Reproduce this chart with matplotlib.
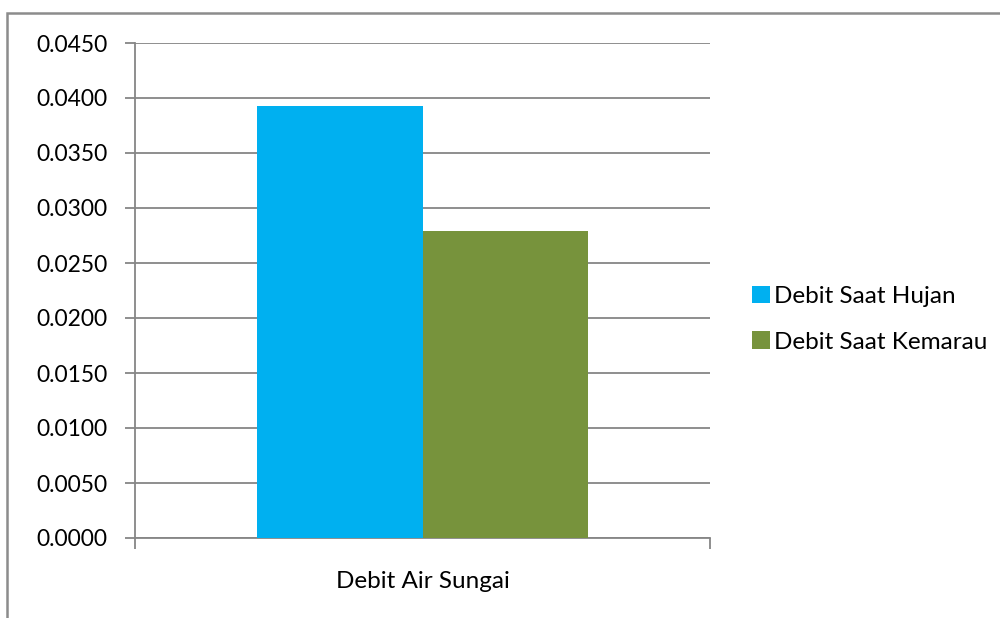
import matplotlib.pyplot as plt
from matplotlib.patches import Rectangle

categories = ['Debit Air Sungai']
series = ['Debit Saat Hujan', 'Debit Saat Kemarau']
values = [0.0393, 0.0279]
colors = ['#00B0F0', '#77933C']
yticks = [0.0, 0.005, 0.010, 0.015, 0.020, 0.025, 0.030, 0.035, 0.040, 0.045]

plt.rcParams['font.family'] = ['Lato', 'DejaVu Sans']

fig = plt.figure(figsize=(10, 6.18), dpi=100)
W, H = 1000, 618

# outer chart border (top and left visible)
fig.patches.append(Rectangle((7 / W, -0.1), 1.2, 1 - 13 / H + 0.1,
                             transform=fig.transFigure, fill=False,
                             edgecolor='#8c8c8c', linewidth=1.8))

ax = fig.add_axes([135 / W, 1 - 538 / H, 575 / W, (538 - 43) / H])

bw = 0.287
for i, (name, v, c) in enumerate(zip(series, values, colors)):
    ax.bar((i - 0.5) * bw, v, width=bw, color=c, label=name, zorder=3)

ax.set_xlim(-0.5, 0.5)
ax.set_ylim(0, 0.045)
ax.set_yticks(yticks)
ax.set_yticklabels([f'{t:.4f}' for t in yticks])
ax.yaxis.grid(True, color='#868686', linewidth=1.3)
ax.set_axisbelow(True)

ax.set_xticks([-0.5, 0.5])
ax.set_xticklabels(['', ''])
ax.set_xticks([0], minor=True)
ax.set_xticklabels(categories, minor=True)
ax.tick_params(axis='x', which='minor', length=0, pad=24, labelsize=17.5)
ax.tick_params(axis='x', which='major', length=8, width=1.3, color='#868686')
ax.tick_params(axis='y', length=7, width=1.3, color='#868686', labelsize=16.5, pad=13)

for s in ['top', 'right']:
    ax.spines[s].set_visible(False)
for s in ['left', 'bottom']:
    ax.spines[s].set_color('#868686')
    ax.spines[s].set_linewidth(1.3)

ax.legend(loc='center left', bbox_to_anchor=(1.035, 0.442), frameon=False,
          fontsize=17.5, handlelength=0.75, handleheight=0.75, handletextpad=0.15,
          labelspacing=1.0)

fig.savefig('out.png', dpi=100)
